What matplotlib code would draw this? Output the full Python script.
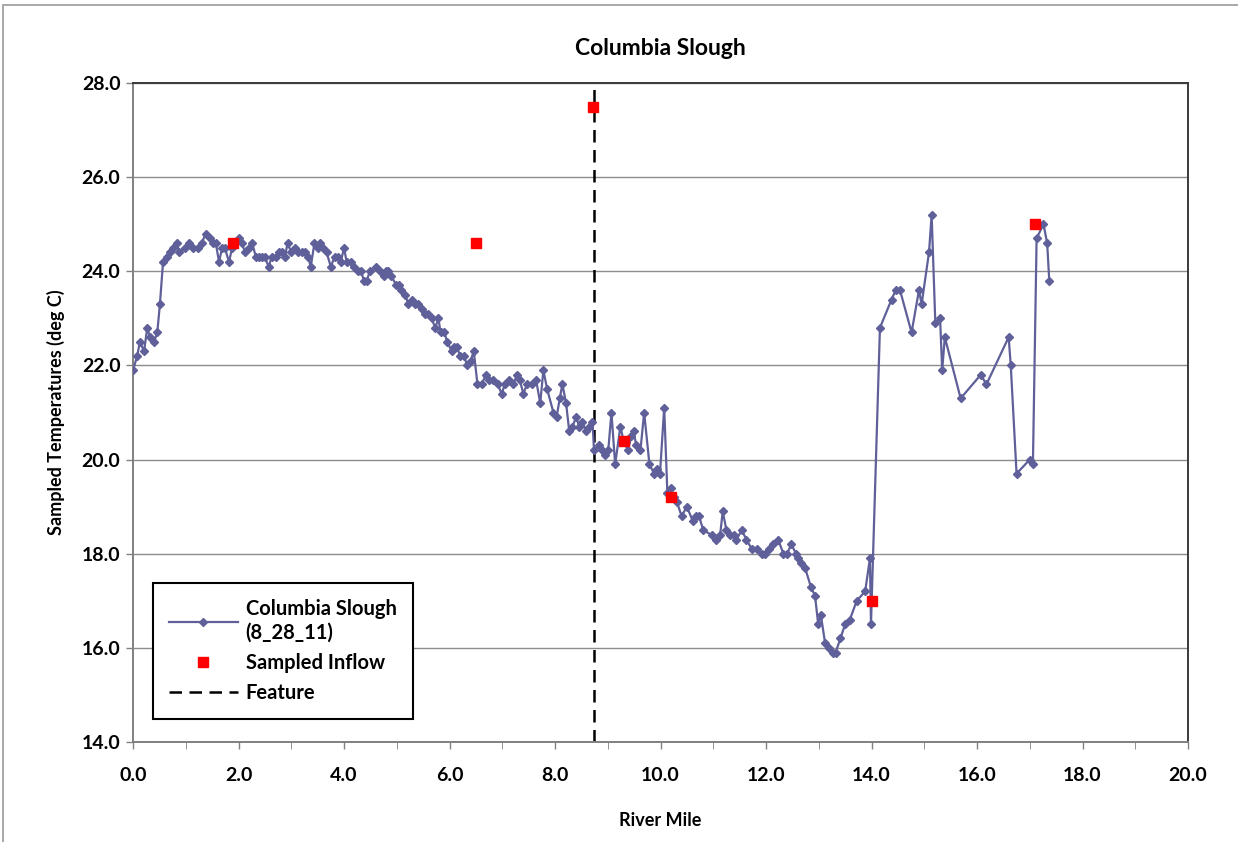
"""Columbia Slough longitudinal temperature profile (8/28/11) with sampled inflows.

Writes out.png
"""
import matplotlib
matplotlib.use("Agg")
import matplotlib.pyplot as plt
from matplotlib.patches import Rectangle
from matplotlib.ticker import MultipleLocator

plt.rcParams["font.family"] = ["Lato", "DejaVu Sans"]
plt.rcParams["font.weight"] = "bold"

# continuous survey (river mile, deg C)
MILE = [
    0.00, 0.08, 0.13, 0.21, 0.27, 0.32, 0.40, 0.46, 0.51, 0.57, 0.64, 0.70, 0.76, 0.83,
    0.88, 0.98, 1.07, 1.14, 1.23, 1.30, 1.38, 1.46, 1.52, 1.57, 1.63, 1.69, 1.74, 1.82,
    1.88, 2.01, 2.07, 2.12, 2.19, 2.26, 2.33, 2.38, 2.45, 2.50, 2.57, 2.63, 2.71, 2.77,
    2.82, 2.88, 2.93, 3.00, 3.07, 3.13, 3.20, 3.26, 3.32, 3.37, 3.44, 3.50, 3.55, 3.61,
    3.67, 3.75, 3.82, 3.88, 3.94, 4.00, 4.05, 4.13, 4.19, 4.26, 4.32, 4.38, 4.43, 4.49,
    4.61, 4.68, 4.75, 4.79, 4.84, 4.90, 4.99, 5.05, 5.09, 5.16, 5.22, 5.28, 5.35, 5.41,
    5.47, 5.54, 5.60, 5.66, 5.73, 5.79, 5.83, 5.90, 5.96, 6.04, 6.09, 6.14, 6.20, 6.27,
    6.34, 6.40, 6.46, 6.53, 6.61, 6.69, 6.75, 6.83, 6.91, 6.99, 7.05, 7.13, 7.21, 7.28,
    7.33, 7.40, 7.47, 7.56, 7.64, 7.72, 7.78, 7.85, 7.97, 8.03, 8.09, 8.14, 8.21, 8.27,
    8.33, 8.40, 8.46, 8.52, 8.59, 8.65, 8.71, 8.74, 8.84, 8.90, 8.95, 9.01, 9.07, 9.14,
    9.24, 9.30, 9.38, 9.45, 9.49, 9.54, 9.62, 9.69, 9.79, 9.88, 9.94, 9.99, 10.07, 10.13,
    10.19, 10.25, 10.31, 10.40, 10.50, 10.61, 10.68, 10.73, 10.81, 10.97, 11.06, 11.13,
    11.18, 11.25, 11.32, 11.39, 11.44, 11.54, 11.63, 11.73, 11.82, 11.92, 11.98, 12.06,
    12.14, 12.23, 12.33, 12.40, 12.48, 12.57, 12.61, 12.66, 12.74, 12.85, 12.93, 12.99,
    13.04, 13.12, 13.20, 13.27, 13.32, 13.41, 13.50, 13.59, 13.72, 13.88, 13.97, 13.99,
    14.16, 14.38, 14.46, 14.54, 14.76, 14.90, 14.95, 15.09, 15.14, 15.21, 15.30, 15.34,
    15.39, 15.69, 16.07, 16.18, 16.60, 16.64, 16.75, 17.00, 17.06, 17.13, 17.26, 17.33,
    17.37,
]
TEMP = [
    21.9, 22.2, 22.5, 22.3, 22.8, 22.6, 22.5, 22.7, 23.3, 24.2, 24.3, 24.4, 24.5, 24.6,
    24.4, 24.5, 24.6, 24.5, 24.5, 24.6, 24.8, 24.7, 24.6, 24.6, 24.2, 24.5, 24.5, 24.2,
    24.5, 24.7, 24.6, 24.4, 24.5, 24.6, 24.3, 24.3, 24.3, 24.3, 24.1, 24.3, 24.3, 24.4,
    24.4, 24.3, 24.6, 24.4, 24.5, 24.4, 24.4, 24.4, 24.3, 24.1, 24.6, 24.5, 24.6, 24.5,
    24.4, 24.1, 24.3, 24.3, 24.2, 24.5, 24.2, 24.2, 24.1, 24.0, 24.0, 23.8, 23.8, 24.0,
    24.1, 24.0, 23.9, 24.0, 24.0, 23.9, 23.7, 23.7, 23.6, 23.5, 23.3, 23.4, 23.3, 23.3,
    23.2, 23.1, 23.1, 23.0, 22.8, 23.0, 22.7, 22.7, 22.5, 22.3, 22.4, 22.4, 22.2, 22.2,
    22.0, 22.1, 22.3, 21.6, 21.6, 21.8, 21.7, 21.7, 21.6, 21.4, 21.6, 21.7, 21.6, 21.8,
    21.7, 21.4, 21.6, 21.6, 21.7, 21.2, 21.9, 21.5, 21.0, 20.9, 21.3, 21.6, 21.2, 20.6,
    20.7, 20.9, 20.7, 20.8, 20.6, 20.7, 20.8, 20.2, 20.3, 20.2, 20.1, 20.2, 21.0, 19.9,
    20.7, 20.4, 20.2, 20.5, 20.6, 20.3, 20.2, 21.0, 19.9, 19.7, 19.8, 19.7, 21.1, 19.3,
    19.4, 19.2, 19.1, 18.8, 19.0, 18.7, 18.8, 18.8, 18.5, 18.4, 18.3, 18.4,
    18.9, 18.5, 18.4, 18.4, 18.3, 18.5, 18.3, 18.1, 18.1, 18.0, 18.0, 18.1,
    18.2, 18.3, 18.0, 18.0, 18.2, 18.0, 17.9, 17.8, 17.7, 17.3, 17.1, 16.5,
    16.7, 16.1, 16.0, 15.9, 15.9, 16.2, 16.5, 16.6, 17.0, 17.2, 17.9, 16.5,
    22.8, 23.4, 23.6, 23.6, 22.7, 23.6, 23.3, 24.4, 25.2, 22.9, 23.0, 21.9,
    22.6, 21.3, 21.8, 21.6, 22.6, 22.0, 19.7, 20.0, 19.9, 24.7, 25.0, 24.6,
    23.8,
]

# sampled inflow points
INFLOW_MILE = [1.9, 6.5, 8.72, 9.3, 10.2, 14.0, 17.1]
INFLOW_TEMP = [24.6, 24.6, 27.5, 20.4, 19.2, 17.0, 25.0]

FEATURE_MILE = 8.74

LINE_C = "#5f5f99"


def main():
    fig = plt.figure(figsize=(12.38, 8.42), dpi=100)
    # outer chart-area border (excel style)
    fig.patches.append(Rectangle((3 / 1238, -0.1), 1.2, 1.1 - 5 / 842,
                                 transform=fig.transFigure, fill=False,
                                 ec="#9a9a9a", lw=1.2))
    ax = fig.add_axes([133 / 1238, 100 / 842, 1055 / 1238, 659 / 842])

    ax.plot(MILE, TEMP, color=LINE_C, lw=1.6, marker="D", ms=4.2, mec=LINE_C,
            mfc=LINE_C, label="Columbia Slough\n(8_28_11)", zorder=3)
    ax.plot(INFLOW_MILE, INFLOW_TEMP, ls="none", marker="s", ms=7.5, color="#ff0000",
            label="Sampled Inflow", zorder=4)
    ax.plot([FEATURE_MILE, FEATURE_MILE], [14, 28], color="black", lw=1.8,
            ls=(0, (5, 3)), label="Feature", zorder=2)

    ax.set_xlim(0, 20); ax.set_ylim(14, 28)
    ax.xaxis.set_major_locator(MultipleLocator(2))
    ax.xaxis.set_minor_locator(MultipleLocator(1))
    ax.yaxis.set_major_locator(MultipleLocator(2))
    ax.xaxis.set_major_formatter(lambda v, p: f"{v:.1f}")
    ax.yaxis.set_major_formatter(lambda v, p: f"{v:.1f}")
    ax.tick_params(axis="both", which="major", direction="out", length=5, width=1,
                   color="#808080", labelsize=14, pad=13)
    ax.tick_params(axis="y", pad=4)
    ax.tick_params(axis="x", which="minor", direction="out", length=5, color="#808080")
    ax.grid(axis="y", color="#8c8c8c", lw=1)
    ax.set_axisbelow(True)
    for s in ax.spines.values():
        s.set_linewidth(1.4); s.set_color("#3a3a3a")
    ax.spines["bottom"].set_color("#808080")
    ax.spines["left"].set_color("#808080")

    ax.set_title("Columbia Slough", fontsize=16.5, fontweight="bold", pad=20)
    ax.set_xlabel("River Mile", fontsize=13, fontweight="bold", labelpad=20)
    ax.set_ylabel("Sampled Temperatures (deg C)", fontsize=13, fontweight="bold",
                  labelpad=12)

    leg = ax.legend(loc="lower left", bbox_to_anchor=(0.019, 0.035), borderaxespad=0,
                    fancybox=False, edgecolor="black", fontsize=14.5, handlelength=3.4,
                    labelspacing=0.5, borderpad=0.8, handletextpad=0.4,
                    framealpha=1)
    leg.get_frame().set_linewidth(1.5)

    fig.savefig("out.png", dpi=100)


if __name__ == "__main__":
    main()
